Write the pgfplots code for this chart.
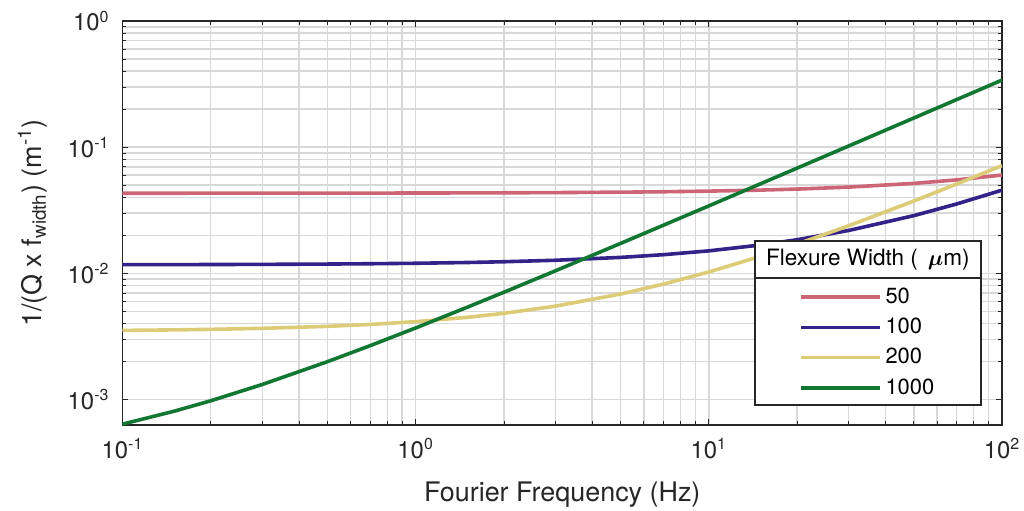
\documentclass[border=0pt]{standalone}
\usepackage{fontspec}
\setmainfont{TeX Gyre Heros}
\usepackage{bm}
\usepackage{pgfplots}
\pgfplotsset{compat=1.18}
\definecolor{cRose}{HTML}{CC6677}
\definecolor{cIndigo}{HTML}{332288}
\definecolor{cSand}{HTML}{DDCC77}
\definecolor{cGreen}{HTML}{117733}
\definecolor{cGrid}{HTML}{D8D8D8}
\definecolor{cAxis}{HTML}{262626}

\pgfplotstableread{
f w50 w100 w200 w1000
0.1 0.043217 0.011734 0.003538 0.00064
0.15 0.043226 0.011751 0.003572 0.00081
0.2 0.043234 0.011768 0.003606 0.00098
0.3 0.043251 0.011802 0.003674 0.00132
0.5 0.043285 0.01187 0.00381 0.002
0.7 0.043319 0.011938 0.003946 0.00268
1 0.04337 0.01204 0.00415 0.0037
1.5 0.043455 0.01221 0.00449 0.0054
2 0.04354 0.01238 0.00483 0.0071
3 0.04371 0.01272 0.00551 0.0105
5 0.04405 0.0134 0.00687 0.0173
7 0.04439 0.01408 0.00823 0.0241
10 0.0449 0.0151 0.01027 0.0343
15 0.04575 0.0168 0.01367 0.0513
20 0.0466 0.0185 0.01707 0.0683
30 0.0483 0.0219 0.02387 0.1023
50 0.0517 0.0287 0.03747 0.1703
70 0.0551 0.0355 0.05107 0.2383
100 0.0602 0.0457 0.07147 0.3403
}\datatable

\begin{document}
\begin{tikzpicture}
\begin{axis}[
  scale only axis,
  width=439.75bp, height=202bp,
  xmode=log, ymode=log,
  xmin=0.1, xmax=100, ymin=6.3e-4, ymax=1,
  xtick={0.1,1,10,100},
  xticklabels={10\textsuperscript{-1},10\textsuperscript{0},10\textsuperscript{1},10\textsuperscript{2}},
  ytick={0.001,0.01,0.1,1},
  yticklabels={10\textsuperscript{-3},10\textsuperscript{-2},10\textsuperscript{-1},10\textsuperscript{0}},
  grid=both,
  major grid style={color=cGrid, line width=0.75bp},
  minor grid style={color=cGrid, line width=0.75bp},
  tick align=inside,
  major tick length=3bp, minor tick length=2bp,
  every tick/.style={cAxis, line width=0.4bp},
  axis line style={cAxis, line width=0.6bp},
  ticklabel style={font=\fontsize{12}{14}\selectfont, text=black!85},
  xticklabel style={yshift=-3bp},
  yticklabel style={xshift=-3bp},
  xlabel={Fourier Frequency (Hz)},
  ylabel={1/(Q x f\textsubscript{width}) (m\textsuperscript{-1})},
  label style={font=\fontsize{13.5}{16}\selectfont, text=black!85},
  xlabel style={at={(axis description cs:0.5,-0.1733)}, anchor=center},
  ylabel style={at={(axis description cs:-0.1023,0.5)}, anchor=center},
  legend style={at={(rel axis cs:0.7692,0.349)}, anchor=north west, draw=none, fill=none,
    inner sep=0pt, row sep=2.35bp, font=\fontsize{11}{13}\selectfont,
    nodes={inner sep=1.75bp}},
  legend cell align=left,
  legend image code/.code={\draw[#1] (0bp,0bp) -- (39.5bp,0bp);},
]
\addplot[cRose, line width=1.8bp] table[x=f, y=w50] {\datatable};
\addplot[cIndigo, line width=1.8bp] table[x=f, y=w100] {\datatable};
\addplot[cSand, line width=1.8bp] table[x=f, y=w200] {\datatable};
\addplot[cGreen, line width=1.8bp] table[x=f, y=w1000] {\datatable};
\draw[cAxis, line width=0.6bp, fill=white] (rel axis cs:0.7192,0.0495) rectangle (rel axis cs:0.9761,0.4554);
\draw[cAxis, line width=0.6bp] (rel axis cs:0.7192,0.3639) -- (rel axis cs:0.9761,0.3639);
\node[font=\fontsize{11.3}{13}\selectfont, anchor=center] at (rel axis cs:0.8476,0.4097) {Flexure Width (\, $\bm{\mu}$m)};
\legend{50,100,200,1000}
\end{axis}
\pgfresetboundingbox
\path[use as bounding box] (-61.25bp,-43bp) rectangle (450.75bp,212.5bp);
\end{tikzpicture}
\end{document}
